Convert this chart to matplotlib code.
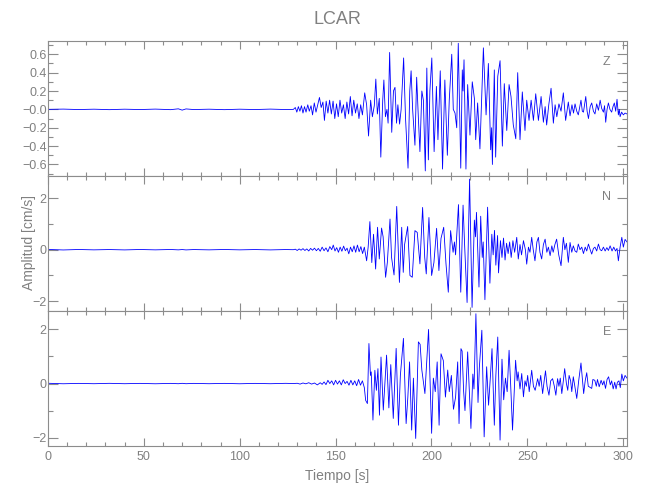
import numpy as np
import matplotlib
matplotlib.use('Agg')
import matplotlib.pyplot as plt
from matplotlib.ticker import MultipleLocator, FixedLocator, FixedFormatter

plt.rcParams['font.family'] = ['Liberation Sans', 'DejaVu Sans']

# quiet part before the arrival (same for the three components)
t_pre = [0, 8, 16, 24, 32, 40, 48, 56, 64, 68, 70, 72, 76, 84, 92, 100, 108, 116, 124, 128]
z_pre = [0, 0.003, -0.002, 0.002, -0.003, 0.002, -0.002, 0.003, -0.003, 0.006,
         -0.008, 0.005, -0.002, 0.002, -0.003, 0.002, -0.002, 0.003, -0.002, 0]
n_pre = [0.01, -0.01, 0.008, -0.006, 0.006, -0.008, 0.008, -0.006, 0.008, -0.006,
         0.006, -0.008, 0.006, -0.006, 0.008, -0.006, 0.006, -0.008, 0.006, 0]
e_pre = [0.01, -0.008, 0.006, -0.006, 0.008, -0.006, 0.006, -0.008, 0.006, -0.006,
         0.008, -0.006, 0.006, -0.006, 0.006, -0.008, 0.006, -0.006, 0.008, 0]

t_z = [129.0, 129.8, 130.6, 131.4, 132.2, 133.0, 133.8, 134.6, 135.5, 136.3, 137.2, 138.0,
       138.9, 139.8, 140.7, 141.6, 142.5, 143.4, 144.2, 145.1, 146.0, 146.9, 147.8, 148.7,
       149.6, 150.5, 151.4, 152.3, 153.2, 154.1, 155.0, 155.9, 156.8, 157.7, 158.6, 159.5,
       160.4, 161.3, 162.2, 163.1, 164.0, 165.2, 166.2, 167.2, 168.3, 169.2, 170.2, 171.0,
       171.8, 172.8, 173.6, 174.6, 175.2, 176.0, 176.8, 177.4, 178.2, 179.3, 180.2, 181.0,
       181.8, 182.5, 183.4, 184.2, 185.5, 186.5, 187.8, 188.7, 189.4, 190.2, 191.4, 192.3,
       193.2, 194.0, 195.0, 195.8, 196.8, 197.6, 198.4, 199.2, 200.2, 201.4, 202.6, 203.4,
       204.6, 205.8, 207.0, 208.3, 209.3, 210.6, 211.4, 212.3, 213.2, 214.0, 215.3, 216.1,
       216.5, 217.0, 218.0, 218.9, 220.1, 221.3, 222.4, 223.1, 224.1, 225.3, 227.1, 228.5,
       229.7, 230.9, 231.4, 231.8, 232.8, 233.5, 234.6, 235.8, 237.0, 238.0, 239.3, 240.5,
       241.5, 242.7, 244.0, 245.0, 246.2, 247.4, 248.8, 249.7, 250.9, 252.0, 253.2, 254.4,
       255.8, 257.2, 258.4, 259.3, 260.1, 261.2, 262.4, 263.6, 264.5, 265.4, 266.5, 267.6,
       268.8, 270.0, 271.4, 272.3, 273.3, 274.1, 274.9, 275.8, 276.6, 277.3, 278.0, 278.7,
       279.3, 280.5, 281.2, 281.9, 282.8, 283.6, 284.5, 285.3, 286.2, 287.1, 288.0, 288.8,
       289.7, 290.3, 290.9, 291.6, 292.3, 293.1, 294.0, 294.7, 295.4, 296.1, 296.8, 297.5,
       298.0, 298.4, 299.2, 300.1, 301.0, 302.0]
z = [0.02, -0.03, 0.03, -0.02, 0.04, -0.04, 0.03, -0.03, 0.05, -0.02, 0.04, -0.06,
     0.07, -0.03, 0.05, 0.13, 0.02, 0.08, -0.12, 0.09, -0.04, 0.1, -0.05, 0.09,
     -0.1, 0.06, -0.08, 0.1, -0.04, 0.05, -0.1, 0.08, -0.05, 0.14, -0.07, 0.1,
     -0.04, 0.06, -0.1, 0.05, -0.06, 0.18, 0.05, -0.29, 0.1, -0.08, 0.04, 0.33,
     -0.05, 0.12, -0.52, 0.1, 0.32, -0.08, 0.0, -0.15, 0.62, -0.25, 0.2, 0.24,
     -0.15, 0.05, -0.16, 0.0, 0.56, -0.1, -0.64, 0.2, 0.42, 0.0, -0.39, 0.35,
     -0.1, -0.46, 0.2, 0.1, -0.67, 0.45, -0.55, 0.2, 0.56, -0.46, 0.25, -0.33,
     0.42, -0.65, 0.32, -0.5, 0.1, 0.6, 0.0, -0.04, -0.2, 0.72, -0.64, 0.43,
     0.2, 0.54, -0.65, 0.27, -0.28, 0.3, 0.12, -0.33, 0.07, -0.43, 0.67, -0.06,
     0.5, -0.44, -0.2, -0.6, 0.43, -0.52, 0.36, 0.53, -0.4, 0.28, -0.23, 0.27,
     0.14, -0.17, -0.32, 0.4, -0.33, 0.19, -0.23, 0.1, -0.12, 0.1, -0.12, 0.17,
     -0.12, 0.14, -0.14, 0.03, -0.17, 0.05, 0.23, -0.15, 0.05, -0.08, 0.06, -0.02,
     0.18, -0.12, 0.08, -0.07, 0.05, -0.04, 0.06, -0.02, -0.06, 0.02, 0.1, -0.02,
     -0.03, 0.14, -0.02, -0.1, 0.03, 0.07, -0.02, -0.05, 0.06, -0.01, 0.1, 0.01,
     -0.03, 0.04, -0.14, 0.0, 0.07, 0.0, -0.03, 0.03, 0.07, -0.02, 0.11, -0.06,
     0.0, -0.08, -0.03, -0.06, -0.04, -0.05]

# componente N
t_n = [129.0, 130.0, 131.0, 132.0, 133.0, 134.0, 135.0, 136.0, 137.0, 138.0, 139.0, 140.0,
       141.0, 142.0, 143.0, 144.0, 145.0, 146.0, 147.0, 148.0, 148.8, 149.7, 150.6, 151.5,
       152.4, 153.3, 154.2, 155.1, 156.0, 156.9, 157.8, 158.7, 159.6, 160.5, 161.4, 162.3,
       163.2, 164.1, 165.0, 166.2, 167.0, 167.9, 168.9, 169.8, 170.9, 171.9, 172.8, 174.0,
       174.8, 176.1, 177.0, 178.4, 179.2, 180.5, 181.9, 183.3, 184.5, 185.3, 186.0, 187.6,
       188.8, 190.0, 191.4, 192.6, 194.0, 195.4, 196.5, 197.3, 198.7, 200.1, 201.3, 202.7,
       203.9, 205.0, 206.4, 207.6, 208.8, 210.0, 211.3, 212.0, 212.6, 213.2, 214.1, 215.3,
       216.5, 217.3, 218.6, 219.9, 221.2, 222.4, 223.0, 223.5, 224.8, 225.7, 226.5, 227.0,
       227.9, 229.3, 230.5, 231.5, 232.2, 232.9, 233.6, 234.5, 235.0, 236.0, 236.8, 237.6,
       238.4, 239.2, 240.0, 240.8, 241.6, 242.5, 243.4, 244.5, 245.3, 246.2, 247.0, 248.0,
       249.0, 249.7, 250.6, 251.4, 252.3, 253.1, 254.0, 255.0, 255.8, 256.6, 257.5, 258.4,
       259.3, 260.2, 261.0, 261.9, 262.8, 263.5, 264.4, 265.3, 266.4, 267.6, 268.8, 269.6,
       270.4, 271.4, 272.3, 273.2, 274.0, 274.9, 275.8, 276.6, 277.5, 278.4, 279.3, 280.2,
       281.0, 281.9, 282.8, 283.6, 284.5, 285.3, 286.2, 287.1, 288.0, 288.8, 289.7, 290.6,
       291.5, 292.3, 293.2, 294.2, 295.1, 296.0, 296.8, 297.5, 298.4, 299.3, 300.1, 301.0,
       302.0]
n = [0.02, -0.03, 0.03, -0.02, 0.04, -0.03, 0.03, -0.05, 0.05, -0.02, 0.06, -0.04,
     0.05, -0.06, 0.1, -0.04, 0.07, -0.08, 0.12, 0.0, 0.18, -0.05, 0.08, -0.1,
     0.1, -0.06, 0.14, -0.04, 0.06, -0.16, 0.1, -0.08, 0.15, -0.1, 0.18, -0.08,
     0.12, -0.15, 0.1, -0.43, 0.1, 1.09, -0.5, 0.6, -0.75, 0.87, -0.36, 0.84,
     0.5, -1.07, -0.5, 1.19, -0.3, -0.98, 1.68, -1.27, 0.87, -0.88, 0.2, 0.9,
     -1.0, -1.07, 0.74, 0.67, -0.55, 1.64, -0.3, -0.94, 1.25, -1.0, -0.5, 0.83,
     -0.81, 0.44, 0.87, -0.55, -1.65, 0.74, -0.1, 0.3, -0.2, 0.55, 1.75, -1.65,
     1.73, 0.2, -2.05, 2.74, -2.24, 1.15, 0.5, 1.45, -1.45, 1.3, -0.3, 0.3,
     -1.94, 1.65, -1.3, 0.6, -0.2, 0.75, -0.6, 0.55, -0.9, 0.35, -0.3, 0.45,
     -0.4, 0.25, -0.15, 0.3, -0.3, 0.35, -0.1, 0.48, -0.36, 0.2, -0.2, 0.35,
     0.0, -0.56, 0.1, -0.1, 0.48, 0.0, -0.43, 0.3, 0.48, -0.1, -0.36, 0.2,
     0.41, -0.1, 0.1, -0.23, 0.15, -0.1, 0.2, 0.41, -0.2, -0.62, 0.48, 0.0,
     0.25, -0.49, 0.28, -0.1, 0.15, -0.05, -0.1, 0.22, 0.0, 0.1, -0.15, 0.1,
     -0.05, 0.22, 0.0, -0.17, 0.05, 0.1, -0.05, 0.22, 0.0, -0.04, 0.1, -0.05,
     0.08, -0.03, 0.15, -0.05, 0.1, -0.05, 0.05, -0.43, 0.1, 0.48, 0.1, 0.4,
     0.3]

# componente E
t_e = [130.0, 131.5, 133.0, 134.5, 136.0, 137.5, 139.0, 140.5, 142.0, 143.0, 144.0, 145.0,
       146.0, 147.0, 148.0, 149.0, 150.0, 151.0, 152.0, 153.0, 154.0, 155.0, 156.0, 157.0,
       158.0, 159.0, 160.0, 161.0, 162.0, 163.0, 164.0, 165.0, 165.7, 166.6, 167.4, 168.2,
       168.6, 169.5, 170.5, 171.3, 172.1, 172.9, 173.7, 174.9, 176.6, 177.8, 178.8, 180.1,
       181.6, 182.8, 183.8, 185.4, 186.8, 187.7, 188.6, 189.7, 190.6, 191.8, 193.2, 194.1,
       195.0, 196.6, 198.5, 200.1, 201.0, 202.0, 203.0, 204.0, 205.0, 206.2, 207.3, 208.5,
       209.3, 210.4, 211.5, 212.6, 213.7, 214.4, 215.4, 216.0, 216.8, 217.5, 218.9, 219.7,
       220.6, 221.6, 222.2, 223.2, 224.3, 225.0, 226.3, 227.5, 228.8, 229.8, 230.7, 231.6,
       232.8, 233.6, 234.6, 235.8, 236.8, 237.7, 238.6, 239.5, 240.5, 241.3, 242.3, 243.9,
       244.7, 245.2, 246.2, 247.1, 248.0, 248.8, 249.5, 250.2, 251.0, 252.3, 253.2, 254.1,
       255.4, 256.2, 257.0, 258.0, 258.8, 259.5, 260.3, 261.3, 262.2, 263.2, 264.1, 264.9,
       265.8, 266.5, 267.2, 268.0, 268.8, 269.5, 270.4, 271.1, 271.8, 272.6, 273.2, 274.0,
       274.8, 275.8, 276.8, 278.0, 278.8, 279.4, 280.2, 281.0, 281.8, 283.6, 284.2, 285.2,
       286.0, 286.6, 287.5, 288.5, 289.3, 290.0, 290.8, 291.6, 292.4, 293.3, 294.0, 294.8,
       295.6, 296.3, 297.0, 297.8, 298.5, 299.3, 300.1, 301.0, 302.0]
e = [0.01, -0.02, 0.02, -0.01, 0.03, -0.02, 0.02, -0.05, 0.03, -0.03, 0.06, -0.04,
     0.12, 0.0, 0.1, -0.05, 0.12, -0.02, 0.1, -0.05, 0.14, 0.0, 0.08, -0.06,
     0.12, -0.05, 0.1, -0.08, 0.15, -0.06, 0.1, -0.15, -0.62, -0.74, 1.48, 0.3,
     0.43, -1.35, 0.49, -0.25, 0.55, -1.17, 0.98, -0.98, 1.05, -0.9, 0.7, -1.29,
     1.3, -1.54, 0.3, 1.67, -1.48, -0.5, 0.8, -1.72, 0.2, -2.03, 1.54, 1.45,
     0.5, -0.37, 2.0, -1.84, 0.2, -0.3, 0.8, -1.54, 1.1, 0.85, -0.5, 0.5,
     -0.3, 0.3, -0.95, -0.5, 0.8, -1.48, 1.29, 1.2, -0.3, -1.0, 1.17, -0.2,
     -1.66, 0.35, -0.2, 2.58, -0.7, 0.6, 1.97, -1.97, 0.62, -0.8, 0.2, 1.29,
     -1.54, 0.3, 1.72, -2.09, 0.9, -0.6, 0.2, -0.3, 1.23, 0.0, -1.72, 0.86,
     0.1, 0.43, -0.2, 0.37, -0.49, 0.1, -0.1, 0.3, -0.3, 0.49, -0.1, -0.25,
     0.18, -0.1, 0.3, -0.37, 0.1, 0.47, -0.1, -0.43, 0.1, 0.18, -0.1, -0.43,
     0.18, -0.1, 0.2, -0.37, 0.1, 0.55, 0.0, -0.25, 0.3, 0.1, -0.3, 0.25,
     -0.1, -0.55, 0.1, 0.76, 0.1, -0.37, 0.1, 0.4, -0.1, -0.18, 0.15, 0.12,
     -0.1, 0.15, -0.12, 0.12, -0.05, 0.1, -0.18, 0.15, 0.25, -0.05, 0.1, -0.2,
     0.05, -0.2, 0.05, 0.1, -0.15, 0.35, 0.1, 0.3, 0.2]

comps = ['Z', 'N', 'E']
tiempo = [t_pre + t_z, t_pre + t_n, t_pre + t_e]
amp = [z_pre + z, n_pre + n, e_pre + e]
ylims = [(-0.72, 0.75), (-2.36, 2.88), (-2.29, 2.70)]

gris = '#8c8c8c'
txt = '#808080'
fig = plt.figure(figsize=(6.5, 5), dpi=100)
bottoms = [0.649, 0.379, 0.109]
axes = []
for i in range(3):
    ax = fig.add_axes([0.0738, bottoms[i], 0.8908, 0.27])
    ax.plot(tiempo[i], amp[i], color='#0000ff', lw=0.6)
    ax.set_xlim(0, 302)
    ax.set_ylim(ylims[i])
    ax.xaxis.set_major_locator(MultipleLocator(50))
    ax.xaxis.set_minor_locator(MultipleLocator(10))
    for s in ax.spines.values():
        s.set_color(gris)
        s.set_linewidth(0.8)
    ax.tick_params(which='both', direction='in', top=True, right=True, colors=gris,
                   labelcolor=txt, labelsize=9, width=0.8)
    ax.tick_params(axis='x', which='major', length=6, pad=4)
    ax.tick_params(axis='x', which='minor', length=3)
    ax.tick_params(axis='y', which='major', length=7, pad=1)
    ax.tick_params(axis='y', which='minor', length=3.5)
    ax.text(0.965, 0.843, comps[i], transform=ax.transAxes, ha='center', va='center',
            color=txt, fontsize=9)
    if i < 2:
        ax.tick_params(axis='x', labelbottom=False)
    axes.append(ax)

# ejes y
ax1, ax2, ax3 = axes
ax1.yaxis.set_major_locator(FixedLocator([-0.6, -0.4, -0.2, 0.0, 0.2, 0.4, 0.6]))
ax1.yaxis.set_major_formatter(FixedFormatter(['\u22120.6', '\u22120.4', '\u22120.2', '\u22120.0', '0.2', '0.4', '0.6']))
ax1.yaxis.set_minor_locator(MultipleLocator(0.1))
for ax in (ax2, ax3):
    ax.yaxis.set_major_locator(FixedLocator([-2, 0, 2]))
    ax.yaxis.set_major_formatter(FixedFormatter(['\u22122', '0', '2']))
    ax.yaxis.set_minor_locator(MultipleLocator(1))

fig.text(0.519, 0.96, 'LCAR', ha='center', va='center', color=txt, fontsize=13)
ax3.set_xlabel('Tiempo [s]', color=txt, fontsize=10, labelpad=4)
fig.text(0.045, 0.514, 'Amplitud [cm/s]', rotation=90, ha='center', va='center',
         color=txt, fontsize=10)

fig.savefig('out.png', dpi=100)
